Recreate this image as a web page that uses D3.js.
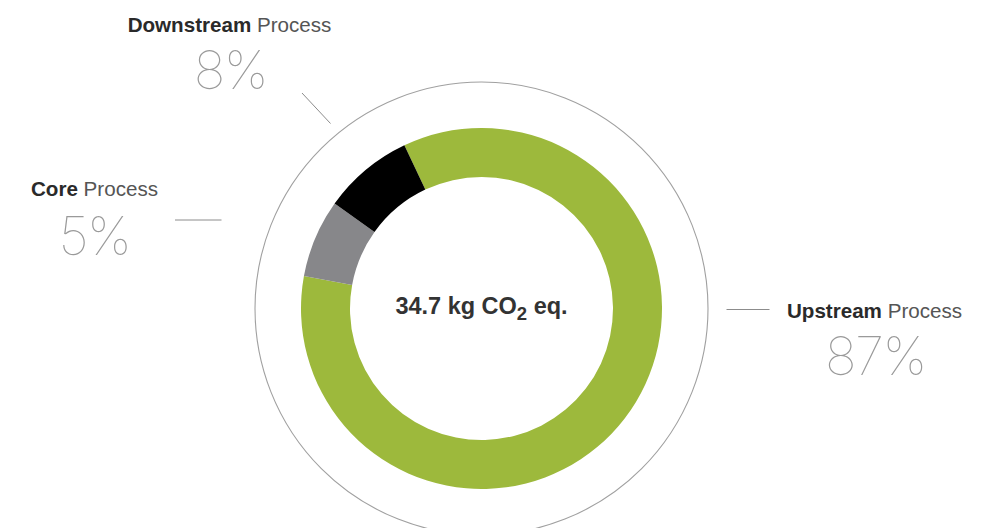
<!DOCTYPE html>
<html>
<head>
<meta charset="utf-8">
<script src="https://cdn.jsdelivr.net/npm/d3@7"></script>
<style>
  html, body { margin: 0; padding: 0; background: #ffffff; }
  svg { display: block; }
</style>
</head>
<body>
<svg id="chart" width="986" height="528"></svg>
<script>
// ---- data ----
const categories = ["Upstream", "Core", "Downstream"];
const percentLabels = ["87%", "5%", "8%"];
// arc shares as drawn in the reference (degrees of the ring / 360)
const segmentShares = [84.9, 7.0, 8.1];
const segmentColors = ["#9db93c", "#87878a", "#000000"];
const totalLabel = "34.7 kg CO";
const totalSub = "2";
const totalSuffix = " eq.";

// ---- layout ----
const svg = d3.select("#chart");
const cx = 481.5, cy = 308.5;
const outerR = 180.5, innerR = 131.5, ringR = 226.5;

const g = svg.append("g").attr("transform", `translate(${cx},${cy})`);

g.append("circle")
  .attr("r", ringR)
  .attr("fill", "none")
  .attr("stroke", "#a0a0a0")
  .attr("stroke-width", 1.1);

const startDeg = -25.3;
const pie = d3.pie().sort(null).value(d => d)
  .startAngle(startDeg * Math.PI / 180)
  .endAngle((startDeg + 360) * Math.PI / 180);
const arc = d3.arc().innerRadius(innerR).outerRadius(outerR);

g.selectAll("path.seg")
  .data(pie(segmentShares))
  .join("path")
  .attr("class", "seg")
  .attr("d", arc)
  .attr("fill", (d, i) => segmentColors[i]);

// center text
const ct = g.append("text")
  .attr("x", 0).attr("y", 5)
  .attr("text-anchor", "middle")
  .attr("font-family", "'Liberation Sans', Arial, sans-serif")
  .attr("font-weight", "bold")
  .attr("font-size", 23.5)
  .attr("fill", "#333333");
ct.append("tspan").text(totalLabel);
ct.append("tspan").attr("dy", 6).attr("font-size", 18.5).text(totalSub);
ct.append("tspan").attr("dy", -6).text(totalSuffix);

// labels
const labels = [
  { i: 2, x: 229.5, y: 32, px: 230.5, py: 89, line: [[302, 93], [330.5, 123.5]] },
  { i: 1, x: 94.5, y: 196, px: 94.5, py: 255, line: [[175, 220], [221.5, 220]] },
  { i: 0, x: 874.5, y: 318, px: 875.5, py: 375, line: [[726.5, 309.5], [769.5, 309.5]] }
];

labels.forEach(l => {
  const t = svg.append("text")
    .attr("x", l.x).attr("y", l.y)
    .attr("text-anchor", "middle")
    .attr("font-family", "'Liberation Sans', Arial, sans-serif")
    .attr("font-size", 20.6);
  t.append("tspan").attr("font-weight", "bold").attr("fill", "#2a2a2a").text(categories[l.i]);
  t.append("tspan").attr("fill", "#555555").text(" Process");

  svg.append("text")
    .attr("x", l.px).attr("y", l.py)
    .attr("text-anchor", "middle")
    .attr("font-family", "Inter, Lato, Roboto, sans-serif")
    .attr("font-weight", 100)
    .attr("font-size", 53)
    .attr("letter-spacing", -1.5)
    .attr("fill", "#9a9a9a")
    .text(percentLabels[l.i]);

  svg.append("path")
    .attr("d", d3.line()(l.line))
    .attr("stroke", "#8c8c8c")
    .attr("stroke-width", 1)
    .attr("fill", "none");
});
</script>
</body>
</html>
